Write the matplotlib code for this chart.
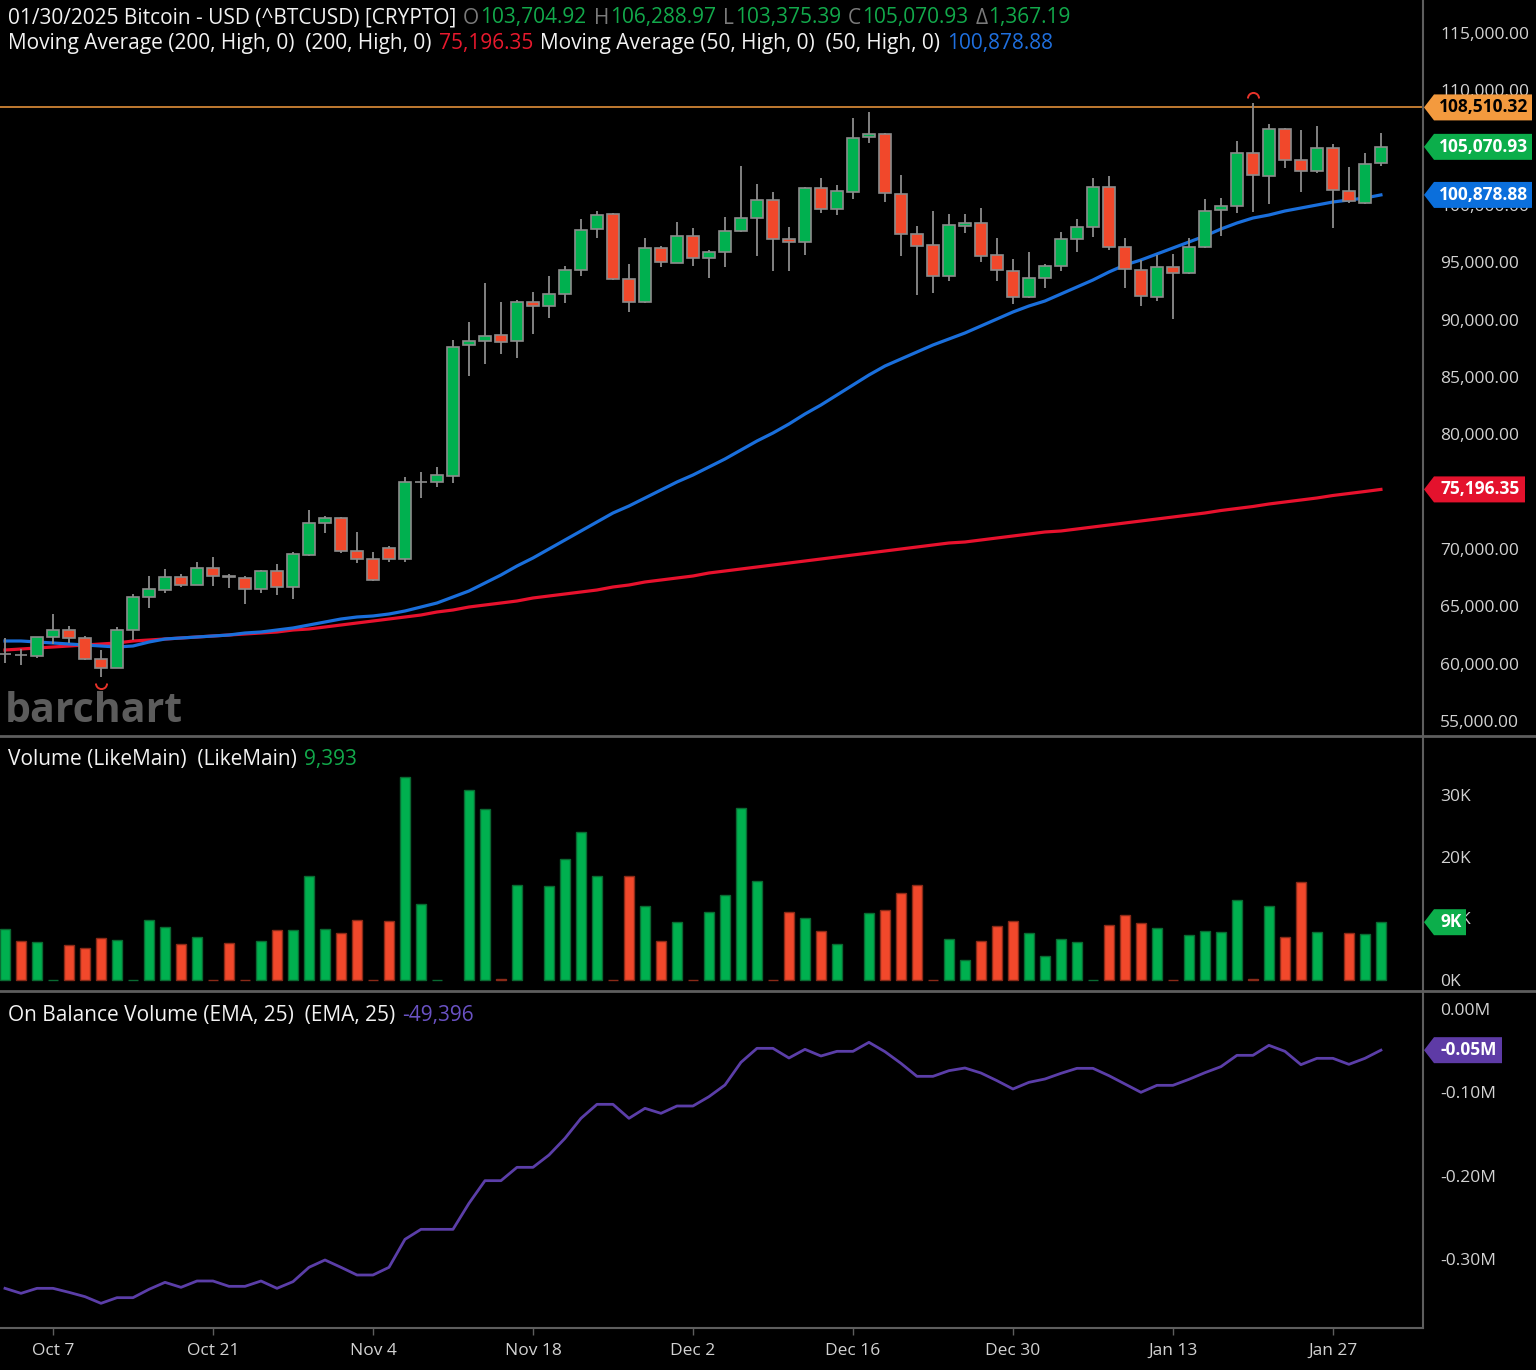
import numpy as np
import pandas as pd
import matplotlib
matplotlib.use("Agg")
import matplotlib.pyplot as plt
from matplotlib.patches import Polygon
from matplotlib.path import Path
from matplotlib import transforms

plt.rcParams['font.family'] = ['Open Sans', 'DejaVu Sans']

# ---- data ----
dates = pd.bdate_range('2024-10-02', '2025-01-30')

opens = [60840, 60780, 60670, 62325, 62935, 62240, 60406, 59622, 62935, 65814,
         66424, 67558, 66860, 68342, 67650, 67470, 66510, 68080, 66685, 69476,
         72267, 72700, 69825, 69127, 70087, 69127, 75830, 75843, 76366, 87790,
         88140, 88663, 88140, 91540, 91192, 92238, 94331, 97907, 99215, 93546,
         91540, 96250, 94942, 97296, 95378, 95902, 97733, 98867, 100436, 97035,
         96773, 101482, 99651, 101134, 105930, 106192, 100959, 97470, 96511, 93808,
         98168, 98430, 95640, 94244, 91976, 93633, 94680, 97035, 98081, 101570,
         96337, 94331, 91976, 94593, 94070, 96337, 99564, 99913, 104535, 102529,
         106628, 103924, 102965, 104971, 101220, 100175, 103704.92]
highs = [62240, 61280, 62350, 64330, 63280, 62400, 61190, 63200, 66075, 67645,
         68255, 67820, 68865, 69300, 67820, 67645, 68170, 68690, 69740, 73400,
         72870, 72750, 71482, 69738, 70260, 76280, 76714, 77150, 88226, 89797,
         93198, 91540, 91715, 92413, 93808, 94680, 98780, 99477, 99300, 94854,
         97122, 96424, 98517, 97994, 96076, 98954, 103401, 101832, 101134, 98081,
         101570, 102355, 101744, 107587, 108110, 106280, 102617, 98168, 99477, 99215,
         99215, 99738, 97122, 95290, 95902, 94854, 97645, 98780, 102355, 102529,
         97122, 95203, 95640, 95727, 97122, 100523, 100610, 105582, 108895, 107064,
         106700, 106541, 106890, 105320, 103314, 104535, 106288.97]
lows = [60060, 59880, 60490, 61715, 61800, 60320, 58835, 59600, 62060, 64855,
        66162, 66685, 66860, 66773, 66600, 65204, 66162, 65988, 65640, 69400,
        71395, 69650, 68779, 67210, 68866, 68866, 74448, 75406, 75756, 85087,
        86133, 87005, 86657, 88750, 90145, 91453, 93808, 97122, 93500, 90668,
        91450, 94593, 94900, 94680, 93633, 94593, 97650, 95552, 94244, 94244,
        95640, 99303, 99128, 100523, 105407, 100262, 95552, 92151, 92326, 93372,
        97558, 95029, 93372, 91366, 91900, 92762, 94244, 95902, 97209, 96076,
        92762, 91192, 91628, 90058, 94000, 96250, 97296, 99303, 99390, 100087,
        103227, 101134, 102791, 97994, 100175, 100100, 103375.39]
closes = [60860, 60740, 62325, 62935, 62240, 60406, 59622, 62935, 65814, 66510,
          67558, 66860, 68342, 67645, 67600, 66510, 68080, 66685, 69563, 72267,
          72700, 69825, 69127, 67296, 69127, 75843, 75850, 76453, 87616, 88140,
          88575, 88052, 91540, 91192, 92238, 94331, 97820, 99128, 93546, 91540,
          96250, 95029, 97296, 95378, 95902, 97733, 98867, 100436, 97035, 96773,
          101482, 99651, 101220, 105843, 106192, 101047, 97470, 96424, 93808, 98256,
          98430, 95552, 94331, 91976, 93633, 94680, 97035, 98081, 101570, 96337,
          94418, 92064, 94593, 94070, 96337, 99477, 99913, 104535, 102617, 106628,
          103924, 102965, 104971, 101308, 100349, 103575, 105070.93]

ma50 = [61976, 61976, 61889, 61802, 61715, 61627, 61540, 61453, 61540, 61889,
        62150, 62238, 62325, 62412, 62499, 62674, 62761, 62935, 63110, 63371,
        63633, 63895, 64069, 64157, 64331, 64593, 64941, 65290, 65814, 66337,
        67034, 67732, 68517, 69215, 70000, 70785, 71570, 72355, 73139, 73750,
        74448, 75145, 75843, 76453, 77151, 77849, 78634, 79418, 80116, 80901,
        81773, 82558, 83430, 84302, 85174, 85959, 86570, 87180, 87791, 88314,
        88837, 89448, 90058, 90669, 91192, 91628, 92238, 92849, 93459, 94157,
        94767, 95203, 95727, 96250, 96773, 97296, 97907, 98430, 98866, 99128,
        99477, 99738, 100000, 100262, 100436, 100610, 100878.88]
ma200 = [61191, 61278, 61366, 61453, 61540, 61627, 61715, 61802, 61976, 62063,
         62150, 62238, 62325, 62412, 62499, 62586, 62674, 62761, 62935, 63022,
         63197, 63371, 63546, 63720, 63895, 64069, 64244, 64505, 64680, 64941,
         65116, 65290, 65465, 65727, 65901, 66075, 66250, 66424, 66686, 66860,
         67122, 67296, 67471, 67645, 67907, 68081, 68256, 68430, 68605, 68779,
         68953, 69128, 69302, 69477, 69651, 69826, 70000, 70174, 70349, 70523,
         70610, 70785, 70960, 71134, 71308, 71483, 71570, 71744, 71919, 72093,
         72268, 72442, 72616, 72790, 72965, 73139, 73357, 73532, 73706, 73924,
         74099, 74273, 74448, 74666, 74840, 75014, 75196.35]

# volume in thousands (nan = no bar)
volume_k = [8.24, 6.34, 6.13, 0, 5.69, 5.2, 6.83, 6.45, 0, 9.7,
            8.6, 5.8, 6.94, 0, 6.0, 0, 6.34, 8.13, 8.13, 16.86,
            8.24, 7.64, 9.76, 0, 9.54, 32.96, 12.3, 0, np.nan, 30.9,
            27.8, 0.2, 15.4, np.nan, 15.2, 19.7, 24.07, 16.86, 0, 16.86,
            12.1, 6.3, 9.38, 0, 11.0, 13.8, 27.97, 16.15, 0, 11.06,
            10.0, 7.9, 5.8, np.nan, 10.9, 11.4, 14.1, 15.5, 0, 6.67,
            3.25, 6.34, 8.7, 9.54, 7.6, 3.85, 6.6, 6.13, 0, 9.0,
            10.6, 9.3, 8.4, 0, 7.27, 7.97, 7.75, 12.96, 0.2, 12.03,
            6.94, 15.9, 7.75, np.nan, 7.6, 7.43, 9.393]

# on balance volume EMA(25) in thousands
obv_k = [-335.2, -341.2, -335.2, -335.2, -340.0, -345.2, -353.2, -346.4, -346.4, -336.4,
         -328.0, -334.0, -326.4, -326.4, -332.8, -332.8, -326.4, -335.2, -327.2, -310.0,
         -301.2, -310.0, -319.2, -319.2, -310.0, -276.4, -264.4, -264.4, -264.4, -233.2,
         -206.0, -206.0, -190.0, -190.0, -175.2, -155.2, -131.2, -114.4, -114.4, -131.2,
         -119.2, -125.2, -116.4, -116.4, -105.2, -91.2, -64.0, -47.2, -47.2, -58.8,
         -48.4, -56.4, -50.8, -50.8, -40.0, -51.2, -65.2, -80.8, -80.8, -74.0,
         -70.8, -76.8, -86.0, -96.0, -88.0, -84.0, -77.2, -71.2, -71.2, -80.0,
         -90.0, -100.0, -91.6, -91.6, -84.4, -76.4, -69.2, -55.6, -55.6, -43.6,
         -50.8, -66.8, -59.2, -59.2, -66.4, -59.2, -49.396]

ref_level = 108510.32
change = 1367.19
price_ticks = list(range(55000, 115001, 5000))
vol_ticks = [0, 10, 20, 30]
obv_ticks = [0, -100, -200, -300]

# ---- styling ----
BG = 'black'
GREEN = '#00b04f'
RED = '#f1482b'
WICK = '#8c8c8c'
GRID_LINE = '#5e5e5e'
LABEL = '#d2d2d2'
W, H = 1536, 1370

fig = plt.figure(figsize=(W / 100, H / 100), dpi=100, facecolor=BG)


def fx(px):
    return px / W


def fy(py):
    return 1 - py / H


right = 1423
ax_p = fig.add_axes([0, fy(736), fx(right), 736 / H])
ax_v = fig.add_axes([0, fy(991), fx(right), (991 - 737) / H])
ax_o = fig.add_axes([0, fy(1328), fx(right), (1328 - 992) / H])

x = np.arange(len(dates))
xlim = (-0.3125, 88.63)
for ax in (ax_p, ax_v, ax_o):
    ax.set_facecolor(BG)
    ax.set_xlim(*xlim)
    for s in ax.spines.values():
        s.set_visible(False)
    ax.yaxis.tick_right()
    ax.tick_params(axis='y', length=0, pad=12.5, labelcolor=LABEL, labelsize=12.5)
    ax.tick_params(axis='x', length=0)
    ax.set_xticks([])

o = np.array(opens, float)
c = np.array(closes, float)
up = c >= o
colors = np.where(up, GREEN, RED)

# price panel
ax_p.set_ylim(53691, 117878)
ax_p.plot(x, ma200, color='#e8112d', lw=2.3, zorder=2)
ax_p.plot(x, ma50, color='#1a6fdc', lw=2.3, zorder=2)
ax_p.axhline(ref_level, color='#f39a3e', lw=1.1, zorder=2)
ax_p.vlines(x, lows, highs, color=WICK, lw=1.3, zorder=3)
ax_p.bar(x, np.abs(c - o), bottom=np.minimum(o, c), width=0.72, color=colors,
         edgecolor=WICK, lw=1.2, zorder=4)

# labels that sit right under a value badge are covered in the original
badge_vals = [ref_level, closes[-1], ma50[-1], ma200[-1]]
ax_p.set_yticks(price_ticks)
ax_p.set_yticklabels(['' if min(abs(v - b) for b in badge_vals) < 500 else f'{v:,.2f}'
                      for v in price_ticks])

hi_i = int(np.argmax(highs))
lo_i = int(np.argmin(lows))
off_up = transforms.offset_copy(ax_p.transData, fig=fig, y=5, units='dots')
off_dn = transforms.offset_copy(ax_p.transData, fig=fig, y=-6, units='dots')
ax_p.plot(hi_i, highs[hi_i], marker=Path.arc(0, 180), ms=8, mfc='none',
          mec='#e8332a', mew=1.4, transform=off_up, zorder=5)
ax_p.plot(lo_i, lows[lo_i], marker=Path.arc(180, 360), ms=8, mfc='none',
          mec='#e8332a', mew=1.4, transform=off_dn, zorder=5)

ax_p.text(5 / right, 14 / 736, 'barchart', transform=ax_p.transAxes, fontsize=29.5,
          fontweight='bold', color='#5c5c5c', va='baseline', ha='left', zorder=1)

# volume panel
vol = np.array(volume_k, float)
edge = np.where(up, '#0a6a32', '#8a2a18')
ax_v.bar(x, vol, width=0.64, color=colors, edgecolor=edge, lw=1.0)
ax_v.set_ylim(-1.79, 39.5)
ax_v.set_yticks(vol_ticks)
ax_v.set_yticklabels([f'{v}K' for v in vol_ticks])

# OBV panel
ax_o.plot(x, obv_k, color='#5b3ea8', lw=2.0)
ax_o.set_ylim(-382.8, 20.4)
ax_o.set_yticks(obv_ticks)
ax_o.set_yticklabels([f'{v / 1000:.2f}M' for v in obv_ticks])

tick_idx = [i for i in range(3, len(dates), 10)]
ax_o.set_xticks(tick_idx)
ax_o.set_xticklabels([f"{dates[i]:%b} {dates[i].day}" for i in tick_idx])
ax_o.tick_params(axis='x', length=5, width=1, color=GRID_LINE, pad=6,
                 labelcolor=LABEL, labelsize=12.5)

# frame lines
fig.add_artist(plt.Line2D([0, 1], [fy(736), fy(736)], color=GRID_LINE, lw=2))
fig.add_artist(plt.Line2D([0, 1], [fy(991), fy(991)], color=GRID_LINE, lw=2))
fig.add_artist(plt.Line2D([0, fx(right)], [fy(1328), fy(1328)], color=GRID_LINE, lw=1.5))
fig.add_artist(plt.Line2D([fx(right), fx(right)], [fy(1328), 1], color=GRID_LINE, lw=1.5))

# value badges on the right
ident = transforms.IdentityTransform()


def badge(ax, value, text, face, tcolor, rpx):
    yc = ax.transData.transform((0, value))[1]
    tip = right + 1
    pts = [(tip, yc), (tip + 10, yc + 13), (rpx, yc + 13), (rpx, yc - 13), (tip + 10, yc - 13)]
    fig.add_artist(Polygon(pts, closed=True, facecolor=face, edgecolor='none',
                           transform=ident, zorder=5))
    fig.text((tip + 10 + rpx) / 2 + 1, yc, text, transform=ident, ha='center', va='center',
             color=tcolor, fontsize=12.5, fontweight='bold', zorder=6)


badge(ax_p, ref_level, f'{ref_level:,.2f}', '#f39a3e', 'black', 1532)
badge(ax_p, closes[-1], f'{closes[-1]:,.2f}', '#0cae4b', 'white', 1532)
badge(ax_p, ma50[-1], f'{ma50[-1]:,.2f}', '#0b6fdc', 'white', 1532)
badge(ax_p, ma200[-1], f'{ma200[-1]:,.2f}', '#e4122d', 'white', 1525)
badge(ax_v, volume_k[-1], f'{volume_k[-1]:.0f}K', '#0cae4b', 'white', 1466)
badge(ax_o, obv_k[-1], f'{obv_k[-1] / 1000:.2f}M', '#5e3ba6', 'white', 1502)

# header legends
fig.canvas.draw()
rend = fig.canvas.get_renderer()


def pieces(xpx, ypx, parts, size=15):
    cur = xpx
    for txt, col, gap in parts:
        t = fig.text(cur, H - ypx, txt, transform=ident, ha='left', va='center',
                     color=col, fontsize=size)
        cur += t.get_window_extent(rend).width + gap


WHITE = '#f2f2f2'
GVAL = '#12a94b'
GRAY = '#7a7a7a'
pieces(8, 18, [
    (f'{dates[-1]:%m/%d/%Y} Bitcoin - USD (^BTCUSD) [CRYPTO]', WHITE, 7),
    ('O', GRAY, 1), (f'{opens[-1]:,.2f}', GVAL, 7),
    ('H', GRAY, 1), (f'{highs[-1]:,.2f}', GVAL, 7),
    ('L', GRAY, 1), (f'{lows[-1]:,.2f}', GVAL, 7),
    ('C', GRAY, 1), (f'{closes[-1]:,.2f}', GVAL, 7),
    ('\u0394', GRAY, 1), (f'{change:,.2f}', GVAL, 0),
])
pieces(8, 44, [
    ('Moving Average (200, High, 0)  (200, High, 0)', WHITE, 7),
    (f'{ma200[-1]:,.2f}', '#e8192d', 7),
    ('Moving Average (50, High, 0)  (50, High, 0)', WHITE, 7),
    (f'{ma50[-1]:,.2f}', '#1f6fde', 0),
])
pieces(8, 759, [
    ('Volume (LikeMain)  (LikeMain)', WHITE, 7),
    (f'{volume_k[-1] * 1000:,.0f}', GVAL, 0),
])
pieces(8, 1015, [
    ('On Balance Volume (EMA, 25)  (EMA, 25)', WHITE, 7),
    (f'{obv_k[-1] * 1000:,.0f}', '#6a52c4', 0),
])

fig.savefig('out.png', dpi=100, facecolor=BG)
